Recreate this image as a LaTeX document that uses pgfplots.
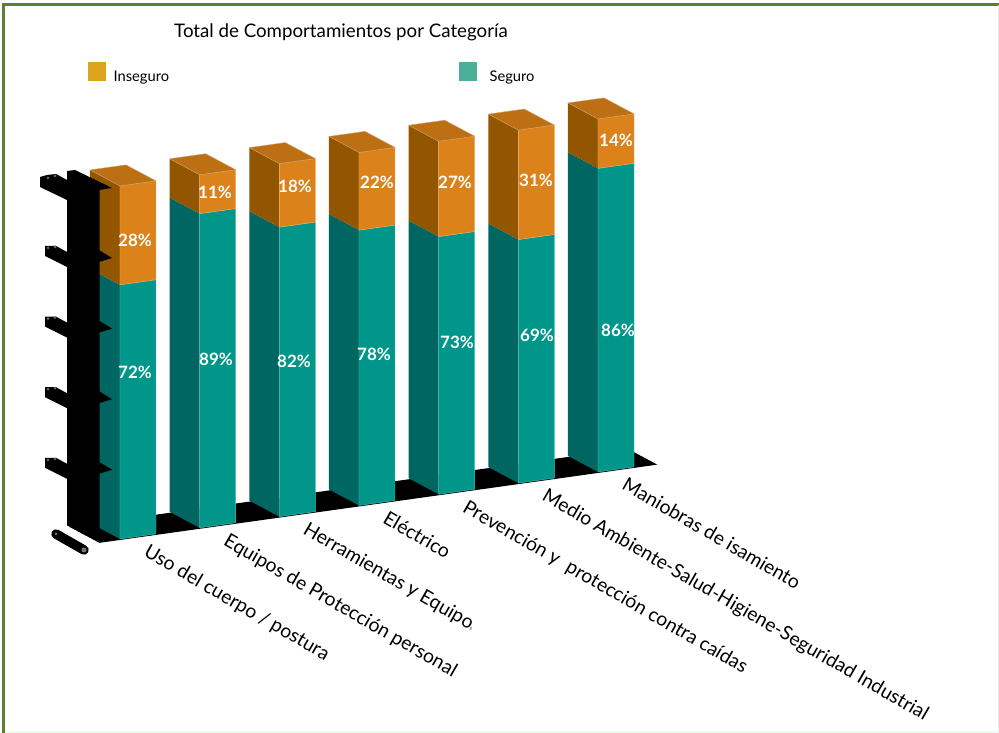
\documentclass[border=0pt]{standalone}
\usepackage{pgfplots}
\pgfplotsset{compat=1.18}
\usepackage{fontspec}
\setmainfont{Lato}

\definecolor{orfront}{HTML}{DC821B}
\definecolor{orside}{HTML}{925600}
\definecolor{ortop}{HTML}{BC6F13}
\definecolor{tealfront}{HTML}{00968A}
\definecolor{tealside}{HTML}{006661}
\definecolor{leginseguro}{HTML}{DCA31E}
\definecolor{legseguro}{HTML}{4CAF97}
\definecolor{framegreen}{HTML}{5B7F2E}

% one stacked segment: x left, x right, z low, z high, front colour, side colour
\newcommand{\segment}[6]{
  \addplot3[forget plot,fill=#6,draw=none] coordinates {(#1,0,#3) (#1,1,#3) (#1,1,#4) (#1,0,#4)} --cycle;
  \addplot3[forget plot,fill=#5,draw=#5!65!white,line width=.4pt] coordinates {(#1,0,#3) (#2,0,#3) (#2,0,#4) (#1,0,#4)} --cycle;
}
\newcommand{\topface}[2]{
  \addplot3[forget plot,fill=ortop,draw=ortop!65!white,line width=.4pt] coordinates {(#1,0,100) (#2,0,100) (#2,1,100) (#1,1,100)} --cycle;
}

\begin{document}
\begin{tikzpicture}[x=1pt,y=1pt]
\useasboundingbox (0,0) rectangle (999,733);
\fill[white] (0,0) rectangle (999,733);

\begin{axis}[
    at={(58.3pt,185.4pt)},
    anchor=origin,
    x={(79.67pt,11.17pt)},
    y={(-30pt,16pt)},
    z={(0pt,3.53pt)},
    xmin=0,xmax=8,
    ymin=-0.05,ymax=0.95,
    zmin=0,zmax=100,
    clip=false,
    axis lines=left,
    axis line style={draw=none},
    major tick length=0pt,
    xtick={1,2,3,4,5,6,7},
    ytick=\empty,
    ztick=\empty,
    xticklabels={Uso del cuerpo / postura,Equipos de Protección personal,Herramientas y Equipo{\fontsize{5}{5}\selectfont s},Eléctrico,Prevención y\ \ protección contra caídas,Medio Ambiente-Salud-Higiene-Seguridad Industrial,Maniobras de isamiento},
    xticklabel style={rotate=-30,anchor=north west,font=\fontsize{19.3}{19.3}\selectfont,xshift=12pt,yshift=0pt,inner sep=0pt},
    legend columns=2,
    legend cell align=left,
    legend style={at={(axis cs:0.373,0,136.3)},anchor=north west,draw=none,fill=none,inner sep=0pt,
      font=\fontsize{14.7}{14.7}\selectfont,
      /tikz/column 1/.style={column sep=6pt},
      /tikz/column 2/.style={column sep=288pt},
      /tikz/column 3/.style={column sep=11pt}},
    legend image code/.code={\fill[#1] (0pt,-4pt) rectangle (17pt,14pt);},
]
\addlegendimage{leginseguro}
\addlegendentry{Inseguro}
\addlegendimage{legseguro}
\addlegendentry{Seguro}

% floor
\addplot3[forget plot,fill=black,draw=none] coordinates {(0.5,-0.05,0) (7.5,-0.05,0) (7.5,0.95,0) (0.5,0.95,0)} --cycle;

% bar 1 comes first, the wall covers part of its side
\segment{0.774}{1.226}{0}{72}{tealfront}{tealside}
\segment{0.774}{1.226}{72}{100}{orfront}{orside}
\topface{0.774}{1.226}
\addplot3[forget plot,fill=black,draw=none] coordinates {(0.5,-0.05,0) (0.5,1.03,0) (0.5,1.03,100) (0.5,-0.05,100)} --cycle;

\segment{1.774}{2.226}{0}{89}{tealfront}{tealside}
\segment{1.774}{2.226}{89}{100}{orfront}{orside}
\topface{1.774}{2.226}
\segment{2.774}{3.226}{0}{82}{tealfront}{tealside}
\segment{2.774}{3.226}{82}{100}{orfront}{orside}
\topface{2.774}{3.226}
\segment{3.774}{4.226}{0}{78}{tealfront}{tealside}
\segment{3.774}{4.226}{78}{100}{orfront}{orside}
\topface{3.774}{4.226}
\segment{4.774}{5.226}{0}{73}{tealfront}{tealside}
\segment{4.774}{5.226}{73}{100}{orfront}{orside}
\topface{4.774}{5.226}
\segment{5.774}{6.226}{0}{69}{tealfront}{tealside}
\segment{5.774}{6.226}{69}{100}{orfront}{orside}
\topface{5.774}{6.226}
\segment{6.774}{7.226}{0}{86}{tealfront}{tealside}
\segment{6.774}{7.226}{86}{100}{orfront}{orside}
\topface{6.774}{7.226}
\end{axis}

% everything below in image pixels, y going down
\begin{scope}[shift={(0,733)},y=-1pt]
  % frame
  \draw[framegreen,line width=3pt] (3.5,733) -- (3.5,4.5) -- (999,4.5);
  \draw[black!10!green!8!white,line width=1.5pt] (5,732.2) -- (999,732.2);
  \draw[black!8,line width=1pt] (998.5,5) -- (998.5,733);

  % wall top and the tick shelves
  \fill[black] (67,171) -- (75,170) -- (112,188) -- (99,190) -- (99,200) -- (67,200) -- cycle;
  \fill[black] (40,177) -- (47,175) -- (56,174) -- (67,180) -- (67,200) -- (40,187) -- cycle;
  \fill[black!60] (48,178) circle (1.5) (55,176) circle (1.5);
  \foreach \dy in {0,70.6,141.2,211.8}{
    \fill[black] (45,246+\dy) -- (56,246+\dy) -- (67,252+\dy) -- (67,267+\dy) -- (45,256+\dy) -- cycle;
    \fill[black] (99,250+\dy) -- (112,258+\dy) -- (99,262+\dy) -- cycle;
    \fill[black!60] (48,248+\dy) circle (1.5) (55,247+\dy) circle (1.5);
  }
  \draw[black,line width=9.5pt,line cap=round] (56,534) -- (84,550);
  \fill[black!55] (84,550) circle (2.5) (56,534) circle (1.5);

  \tikzset{pct/.style={white,font=\fontsize{17}{17}\selectfont\bfseries,inner sep=0pt}}
  \node[pct] at (135,372) {72\%};
  \node[pct] at (135,240) {28\%};
  \node[pct] at (216,359) {89\%};
  \node[pct] at (215,192) {11\%};
  \node[pct] at (294,361) {82\%};
  \node[pct] at (295,186) {18\%};
  \node[pct] at (374,354) {78\%};
  \node[pct] at (377,182) {22\%};
  \node[pct] at (457,342) {73\%};
  \node[pct] at (455,182) {27\%};
  \node[pct] at (537,335) {69\%};
  \node[pct] at (536,180) {31\%};
  \node[pct] at (618,330) {86\%};
  \node[pct] at (616,140) {14\%};

  \node[font=\fontsize{18.7}{18.7}\selectfont,inner sep=0pt] at (341,32) {Total de Comportamientos por Categoría};
\end{scope}
\end{tikzpicture}
\end{document}
